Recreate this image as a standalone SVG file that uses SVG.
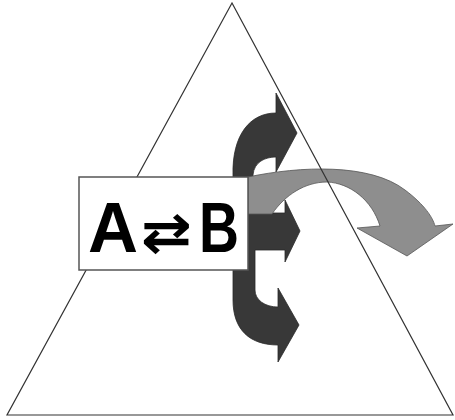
<svg xmlns="http://www.w3.org/2000/svg" width="455" height="420" viewBox="0 0 455 420">
<style>
.tri{fill:none;stroke:#333;stroke-width:1.2}
.box{fill:#fff;stroke:#555;stroke-width:1.5}
.dark{fill:#383838;stroke:#2a2a2a;stroke-width:0.8}
.gray{fill:#8e8e8e;stroke:#555;stroke-width:0.8}
.big{font-family:"Liberation Sans",Arial,sans-serif;font-weight:bold;font-size:70px;fill:#000}
.sym{font-family:"DejaVu Sans",sans-serif;font-weight:bold;font-size:54px;fill:#000}
</style>
<rect width="455" height="420" fill="#fff"/>
<g id="connectors">
<path id="dark-arrows" class="dark" d="M276,93 L297,133 L276,172 L276,157 C265,157 254,162 253,175 L253,213 L285,213 L285,200 L300,231 L285,262 L285,250 L255,250 L255,290 C255,300 265,307 278,307 L278,288 L299,325 L278,362 L278,345 C250,345 233,330 233,300 L233,175 C232,135 250,113 276,113 Z"/>
<path id="gray-arrow" class="gray" d="M248,177 C300,166 370,163 405,190 C425,205 433,218 435,226 L453,224 L407,256 L357,228 L380,226 C372,200 350,183 327,182 C305,182 285,195 272,214 L248,214 Z"/>
</g>
<g id="triangle">
<polygon class="tri" points="232,3 7,415 453,415"/>
</g>
<g id="reaction-box">
<rect class="box" x="79" y="177" width="169" height="93"/>
<text class="big" x="88" y="252" textLength="50" lengthAdjust="spacingAndGlyphs">A</text>
<text class="sym" x="141" y="251" textLength="51" lengthAdjust="spacingAndGlyphs">⇄</text>
<text class="big" x="199" y="252" textLength="40" lengthAdjust="spacingAndGlyphs">B</text>
</g>
</svg>
